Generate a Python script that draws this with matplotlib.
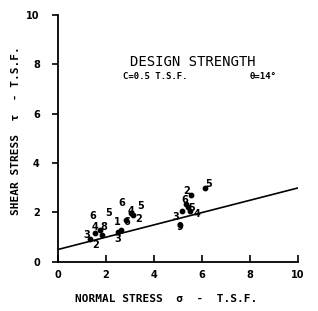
import matplotlib
matplotlib.use("Agg")
import matplotlib.pyplot as plt
import numpy as np

# design strength line
cohesion = 0.5
phi_deg = 14

# test point markers
pt_x = [1.33, 1.54, 1.75, 1.85, 2.51, 2.62, 2.83, 3.03, 3.12, 5.19, 5.08, 5.43, 5.54, 6.13, 5.50, 5.35]
pt_y = [0.92, 1.16, 1.30, 1.10, 1.20, 1.30, 1.70, 1.97, 1.90, 2.05, 1.50, 2.24, 2.72, 2.99, 2.05, 2.35]

# sample number labels
lab_x = [1.20, 1.58, 1.44, 2.10, 1.55, 1.90, 2.48, 2.51, 2.68, 2.88, 3.05, 3.44, 3.35, 4.90, 5.08, 5.29, 5.36, 6.28, 5.80, 5.55]
lab_y = [1.09, 0.69, 1.84, 1.97, 1.40, 1.40, 1.60, 0.92, 2.38, 1.62, 2.05, 2.28, 1.72, 1.80, 1.40, 2.50, 2.88, 3.15, 1.92, 2.18]
lab_t = ["3", "2", "6", "5", "4", "8", "1", "3", "6", "6", "4", "5", "2", "3", "9", "6", "2", "5", "4", "5"]

ticks = [0, 2, 4, 6, 8, 10]

fig = plt.figure(figsize=(3.18, 3.11), dpi=100)
ax = fig.add_axes([0.182, 0.158, 0.755, 0.794])

xs = np.array([0, 10])
ax.plot(xs, cohesion + np.tan(np.radians(phi_deg)) * xs, color="black", lw=1.2)
ax.scatter(pt_x, pt_y, s=10, color="black", zorder=3)
for x, y, t in zip(lab_x, lab_y, lab_t):
    ax.text(x, y, t, ha="center", va="center", fontsize=7,
            family="DejaVu Sans", fontweight="bold")

ax.text(5.6, 8.1, "DESIGN STRENGTH", ha="center", va="center",
        fontsize=10, family="DejaVu Sans Mono")
ax.text(2.7, 7.5, "C=0.5 T.S.F.", ha="left", va="center",
        fontsize=6.5, family="DejaVu Sans Mono", fontweight="bold")
ax.text(8.0, 7.5, "\u03b8=14\u00b0", ha="left", va="center",
        fontsize=6.5, family="DejaVu Sans Mono", fontweight="bold")

ax.set_xlim(0, 10)
ax.set_ylim(0, 10)
ax.set_xticks(ticks)
ax.set_yticks(ticks)
ax.set_xticklabels([str(t) for t in ticks], fontsize=7, fontweight="bold")
ax.set_yticklabels([str(t) for t in ticks], fontsize=7, fontweight="bold")
ax.tick_params(axis="x", direction="in", length=5, width=1.2, pad=6)
ax.tick_params(axis="y", direction="out", length=4, width=1.2, pad=9)
for s in ["top", "right"]:
    ax.spines[s].set_visible(False)
for s in ["left", "bottom"]:
    ax.spines[s].set_linewidth(1.3)

ax.set_xlabel("NORMAL STRESS  \u03c3  -  T.S.F.", fontsize=8, fontweight="bold",
              family="DejaVu Sans Mono")
ax.xaxis.set_label_coords(0.45, -0.13)
ax.set_ylabel("SHEAR STRESS  \u03c4  - T.S.F.", fontsize=8, fontweight="bold",
              family="DejaVu Sans Mono")
ax.yaxis.set_label_coords(-0.155, 0.53)

fig.savefig("out.png", dpi=100)
